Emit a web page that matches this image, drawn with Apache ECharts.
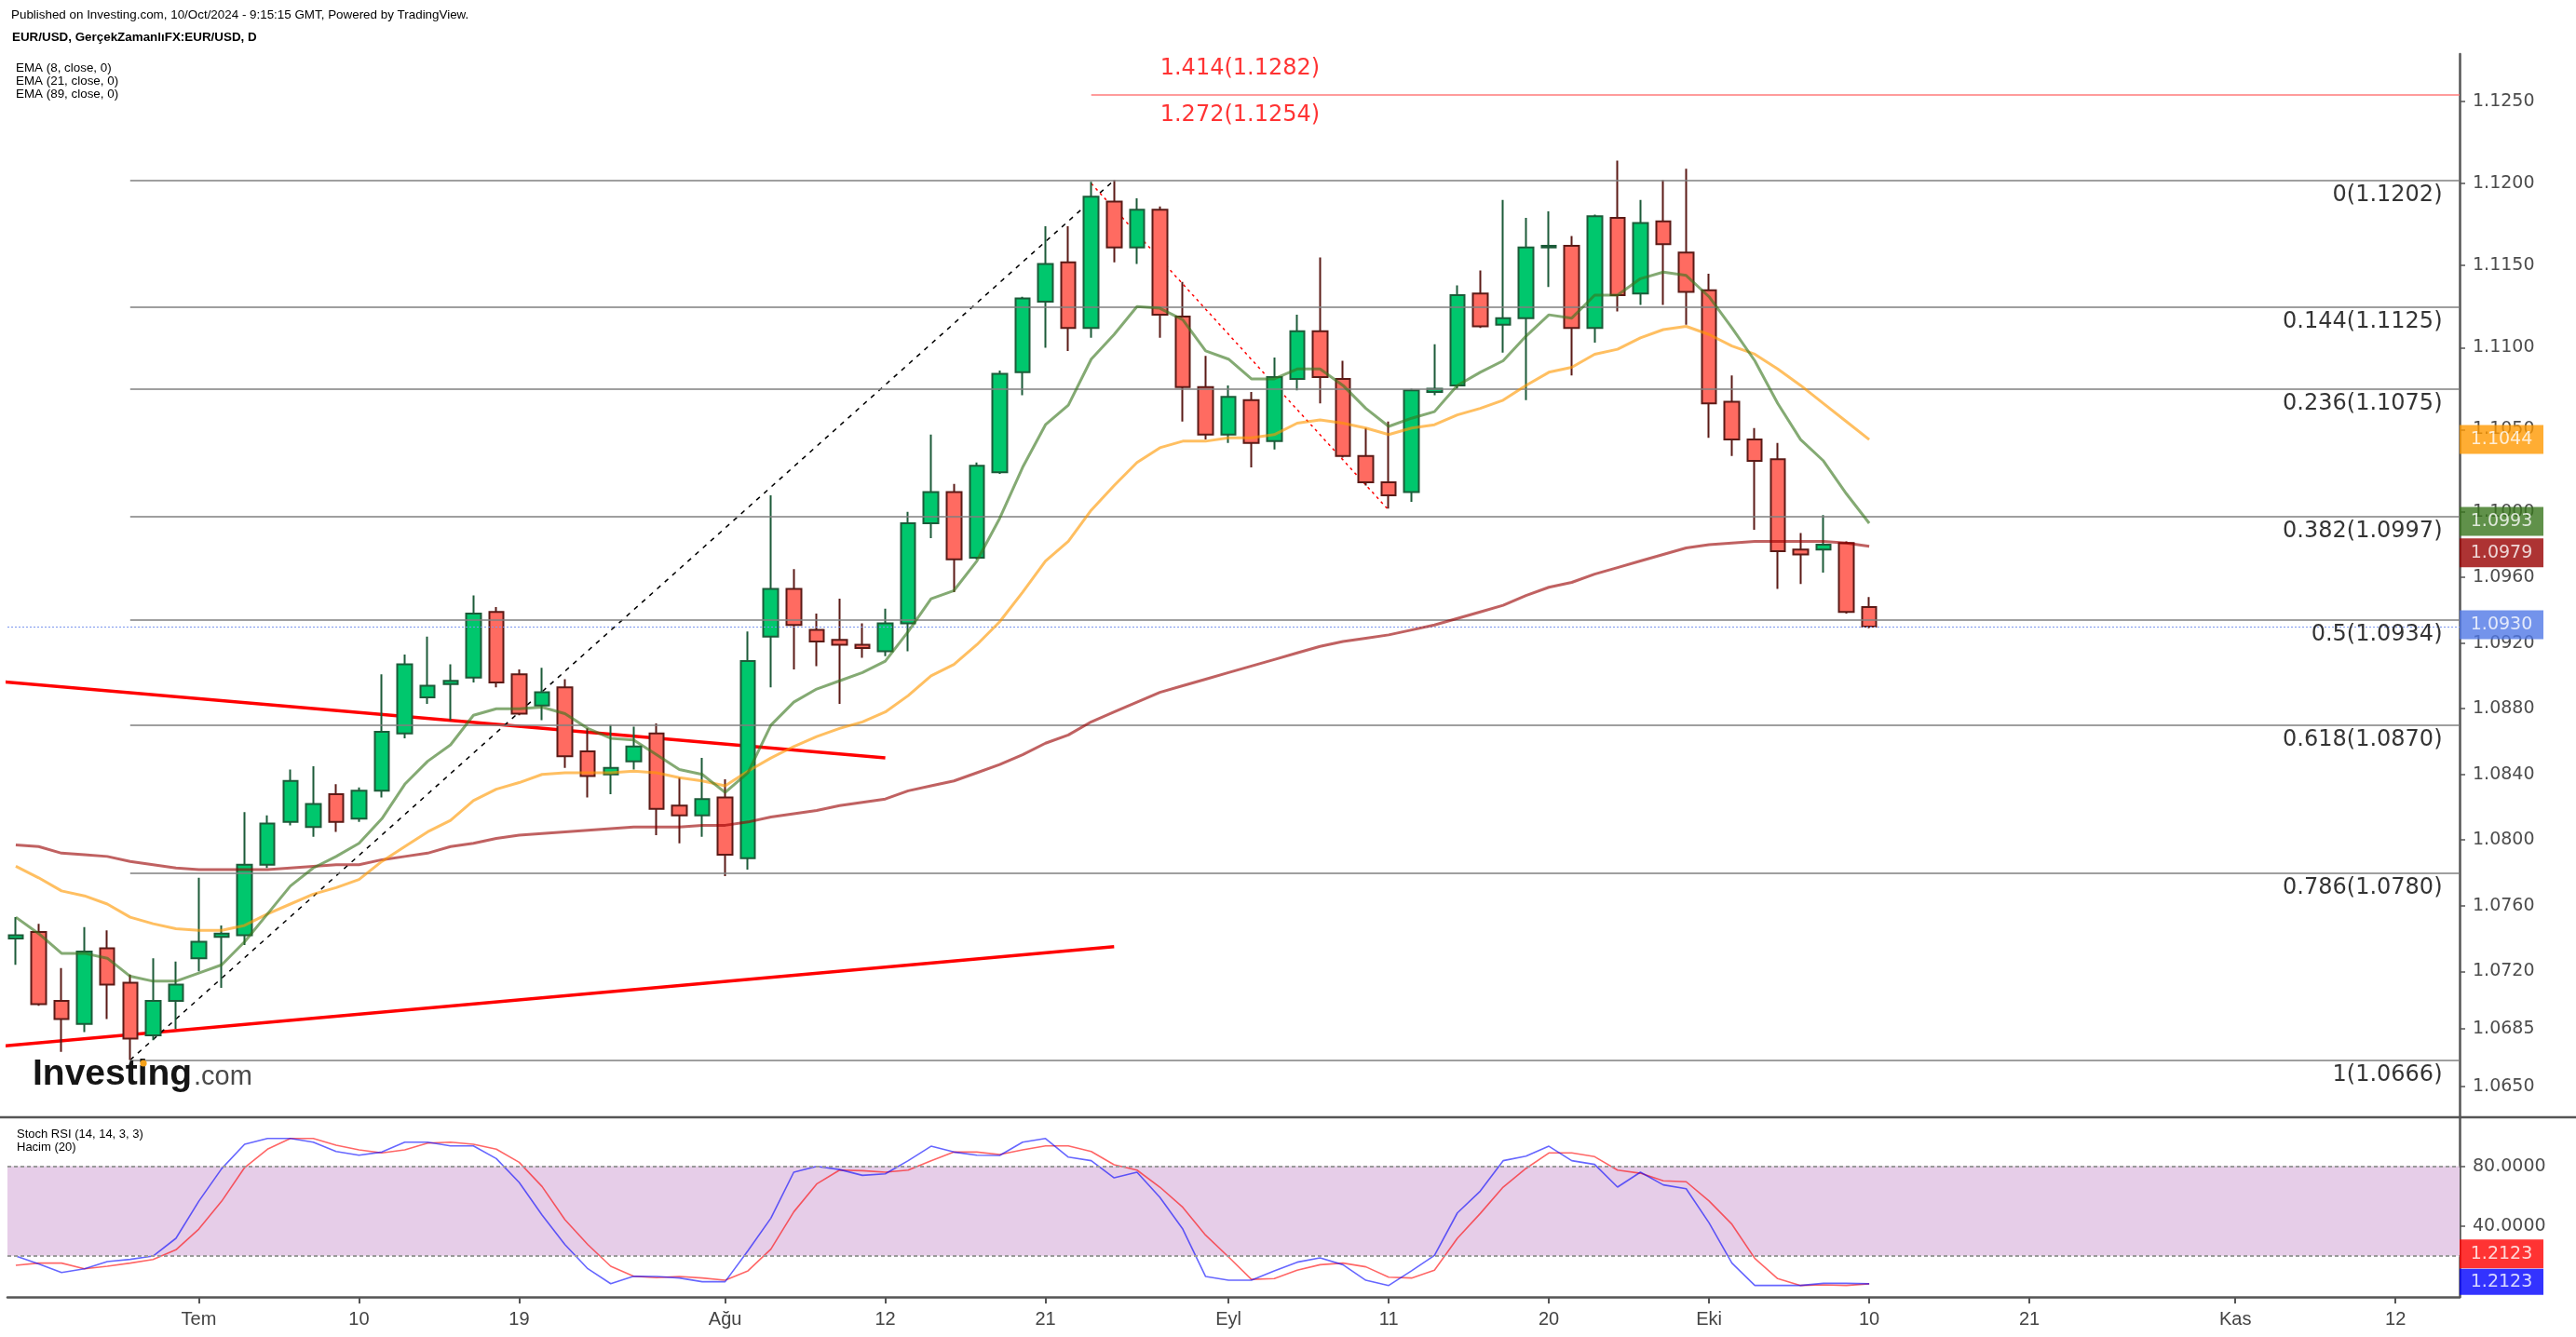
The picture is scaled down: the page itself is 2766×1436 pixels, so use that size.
<!DOCTYPE html>
<html><head><meta charset="utf-8">
<script src="https://cdn.jsdelivr.net/npm/echarts@6/dist/echarts.min.js"></script>
<style>html,body{margin:0;padding:0;background:#fff}#c{width:2766px;height:1436px}</style>
</head><body><div id="c"></div><script>
// ---------- categories (trading days) ----------
const dates = [];
for (let t = Date.UTC(2024, 5, 19); t <= Date.UTC(2024, 10, 14); t += 86400000) {
  const d = new Date(t), w = d.getUTCDay();
  if (w !== 0 && w !== 6) dates.push(d.toISOString().slice(0, 10));
}
const tickDates  = ['2024-07-01','2024-07-10','2024-07-19','2024-08-01','2024-08-12','2024-08-21','2024-09-02','2024-09-11','2024-09-20','2024-10-01','2024-10-10','2024-10-21','2024-11-01','2024-11-12'];
const tickLabels = ['Tem','10','19','Ağu','12','21','Eyl','11','20','Eki','10','21','Kas','12'];

// ---------- price data (2024-06-19 .. 2024-10-10) ----------
const open  = [1.0740,1.0744,1.0702,1.0688,1.0734,1.0713,1.0681,1.0702,1.0728,1.0741, 1.0742,1.0785,1.0811,1.0808,1.0828,1.0813,1.0830,1.0865,1.0887,1.0895, 1.0899,1.0939,1.0901,1.0882,1.0893,1.0854,1.0840,1.0848,1.0865,1.0821, 1.0815,1.0826,1.0789,1.0924,1.0953,1.0928,1.0922,1.0919,1.0915,1.0932, 1.0993,1.1012,1.0972,1.1024,1.1085,1.1128,1.1152,1.1112,1.1189,1.1161, 1.1184,1.1119,1.1076,1.1047,1.1068,1.1043,1.1081,1.1110,1.1081,1.1034, 1.1018,1.1012,1.1073,1.1077,1.1133,1.1114,1.1118,1.1161,1.1162,1.1112, 1.1179,1.1133,1.1177,1.1158,1.1135,1.1067,1.1044,1.1032,1.0977,1.0977, 1.0981,1.0942];
const close = [1.0742,1.0700,1.0691,1.0732,1.0712,1.0679,1.0702,1.0712,1.0738,1.0743, 1.0785,1.0810,1.0836,1.0822,1.0811,1.0830,1.0866,1.0907,1.0894,1.0897, 1.0938,1.0896,1.0877,1.0890,1.0851,1.0839,1.0844,1.0857,1.0819,1.0815, 1.0825,1.0791,1.0909,1.0953,1.0931,1.0921,1.0919,1.0917,1.0932,1.0993, 1.1012,1.0971,1.1028,1.1084,1.1130,1.1151,1.1112,1.1192,1.1161,1.1184, 1.1120,1.1076,1.1047,1.1070,1.1042,1.1082,1.1110,1.1082,1.1034,1.1018, 1.1010,1.1074,1.1075,1.1132,1.1113,1.1118,1.1161,1.1162,1.1112,1.1180, 1.1132,1.1176,1.1163,1.1134,1.1066,1.1044,1.1031,1.0976,1.0974,1.0980, 1.0939,1.0930];
const low   = [1.0724,1.0699,1.0671,1.0683,1.0691,1.0666,1.0678,1.0685,1.0720,1.0710, 1.0736,1.0783,1.0809,1.0802,1.0805,1.0811,1.0826,1.0862,1.0883,1.0873, 1.0896,1.0893,1.0876,1.0873,1.0844,1.0826,1.0828,1.0843,1.0803,1.0798, 1.0802,1.0778,1.0782,1.0893,1.0904,1.0906,1.0883,1.0911,1.0912,1.0915, 1.0984,1.0951,1.0971,1.1023,1.1071,1.1100,1.1098,1.1106,1.1152,1.1151, 1.1106,1.1055,1.1044,1.1042,1.1027,1.1038,1.1074,1.1066,1.1033,1.1016, 1.1002,1.1006,1.1071,1.1075,1.1112,1.1097,1.1068,1.1137,1.1083,1.1103, 1.1122,1.1126,1.1126,1.1114,1.1045,1.1034,1.0989,1.0953,1.0956,1.0963, 1.0938,1.0929];
const high  = [1.0753,1.0749,1.0722,1.0747,1.0745,1.0718,1.0728,1.0726,1.0777,1.0748, 1.0817,1.0815,1.0843,1.0845,1.0834,1.0832,1.0901,1.0913,1.0924,1.0907, 1.0949,1.0942,1.0904,1.0905,1.0898,1.0868,1.0870,1.0869,1.0871,1.0838, 1.0850,1.0837,1.0927,1.1010,1.0965,1.0938,1.0947,1.0932,1.0941,1.1000, 1.1047,1.1017,1.1030,1.1086,1.1131,1.1174,1.1174,1.1201,1.1202,1.1191, 1.1186,1.1140,1.1095,1.1077,1.1073,1.1094,1.1120,1.1155,1.1092,1.1051, 1.1055,1.1075,1.1102,1.1138,1.1147,1.1190,1.1179,1.1183,1.1168,1.1181, 1.1214,1.1190,1.1202,1.1209,1.1145,1.1083,1.1051,1.1042,1.0987,1.0998, 1.0982,1.0948];

const ema8  = [1.0753,1.0743,1.0731,1.0731,1.0728,1.0717,1.0714,1.0714,1.0719,1.0724, 1.0738,1.0755,1.0772,1.0783,1.0790,1.0798,1.0813,1.0834,1.0848,1.0858, 1.0876,1.0880,1.0880,1.0881,1.0877,1.0868,1.0862,1.0861,1.0852,1.0843, 1.0840,1.0829,1.0841,1.0870,1.0884,1.0892,1.0897,1.0902,1.0909,1.0927, 1.0947,1.0952,1.0970,1.0996,1.1027,1.1053,1.1065,1.1093,1.1108,1.1125, 1.1124,1.1117,1.1098,1.1093,1.1081,1.1081,1.1087,1.1087,1.1077,1.1063, 1.1052,1.1057,1.1061,1.1077,1.1085,1.1092,1.1107,1.1120,1.1118,1.1132, 1.1132,1.1142,1.1146,1.1144,1.1131,1.1112,1.1092,1.1066,1.1044,1.1031, 1.1011,1.0993];
const ema21 = [1.0784,1.0777,1.0769,1.0766,1.0761,1.0753,1.0749,1.0746,1.0745,1.0745, 1.0748,1.0755,1.0761,1.0767,1.0771,1.0776,1.0787,1.0796,1.0805,1.0812, 1.0824,1.0831,1.0835,1.0840,1.0841,1.0841,1.0841,1.0842,1.0841,1.0838, 1.0836,1.0833,1.0842,1.0850,1.0857,1.0863,1.0868,1.0872,1.0878,1.0888, 1.0900,1.0907,1.0919,1.0933,1.0951,1.0970,1.0982,1.1001,1.1016,1.1030, 1.1039,1.1043,1.1043,1.1045,1.1045,1.1047,1.1054,1.1056,1.1054,1.1051, 1.1047,1.1051,1.1053,1.1059,1.1063,1.1068,1.1077,1.1085,1.1088,1.1096, 1.1099,1.1106,1.1111,1.1113,1.1108,1.1101,1.1096,1.1087,1.1077,1.1066, 1.1055,1.1044];
const ema89 = [1.0797,1.0796,1.0792,1.0791,1.0790,1.0787,1.0785,1.0783,1.0782,1.0782, 1.0782,1.0782,1.0783,1.0784,1.0785,1.0785,1.0788,1.0790,1.0792,1.0796, 1.0798,1.0801,1.0803,1.0804,1.0805,1.0806,1.0807,1.0808,1.0808,1.0808, 1.0809,1.0809,1.0811,1.0814,1.0816,1.0818,1.0821,1.0823,1.0825,1.0830, 1.0833,1.0836,1.0841,1.0846,1.0852,1.0859,1.0864,1.0872,1.0878,1.0884, 1.0890,1.0894,1.0898,1.0902,1.0906,1.0910,1.0914,1.0918,1.0921,1.0923, 1.0925,1.0928,1.0931,1.0935,1.0939,1.0943,1.0949,1.0954,1.0957,1.0962, 1.0966,1.0970,1.0974,1.0978,1.0980,1.0981,1.0982,1.0982,1.0982,1.0982, 1.0981,1.0979];

const stochK = [19.8,14.6,8.8,11.3,16.1,17.6,19.8,31.7, 56.6,78.4,94.7,98.6,98.6,96.1,89.9,87.4,89.5,96.1, 96.1,93.6,93.6,85.1,69.1,47.3,27.5,11.3,1.3,6.3, 6.1,5.1,2.6,2.6,23.4,45.2,76.0,79.9,77.8,73.9, 74.9,83.7,93.4,89.5,87.4,87.2,96.1,98.6,86.1,83.7, 72.2,76.0,59.1,37.9,6.1,3.6,3.6,9.9,15.7, 18.6,14.0,3.6,0.1,9.9,20.2,48.7,63.3,83.7,86.8,93.4,83.7,81.2,66.0,76.0,67.5,64.9,42.1,15.1,0.1,0.1,0.1,1.5,1.5,1.2123];
const stochD = [13.6,15.1,15.1,11.3,13.0,15.1,17.5,24.0, 37.9,56.6,79.1,91.4,98.6,98.6,94.1,91.0,88.9,91.0, 95.5,96.1,94.7,91.4,82.6,66.4,44.2,27.5,13.0,6.3, 5.3,6.1,5.1,3.6,9.9,24.4,49.4,68.1,77.4,77.0, 76.0,77.4,83.7,89.5,89.5,87.8,91.0,93.6,93.6,89.9, 81.0,77.4,66.0,52.5,33.8,19.2,4.2,4.7,10.3, 14.0,15.1,12.6,5.7,5.1,10.3,31.7,48.3,66.0,78.5,88.9,88.9,86.4,77.4,75.3,70.2,69.6,56.7,41.1,18.2,4.7,0.1,0.5,0.1,1.2123];

const priceTicks = [1.1250,1.1200,1.1150,1.1100,1.1050,1.1000,1.0960,1.0920,1.0880,1.0840,1.0800,1.0760,1.0720,1.0685,1.0650];
const rsiTicks = [80, 40];
const rsiBand = [20, 80];

const fibLevels = ['0','0.144','0.236','0.382','0.5','0.618','0.786','1'];
const fibValues = [1.1202,1.1125,1.1075,1.0997,1.0934,1.0870,1.0780,1.0666];
const fibStartDate = '2024-06-26';
const extLevels = ['1.414','1.272'];
const extValues = [1.1282,1.1254];
const extStartDate = '2024-08-23';
const extLabelX = 53.5; // between the two anchor days

// drawn trend lines: [dayIndex, price] (-1 = 2024-06-18)
const trendUpper = [[-1, 1.0897], [38, 1.0850]];
const trendLower = [[-1, 1.0674], [48, 1.0735]];
const fibDiagonal = [['2024-06-26', 1.0666], ['2024-08-26', 1.1202]];
const extDiagonal = [['2024-08-23', 1.1200], ['2024-09-11', 1.1001]];

// ---------- layout ----------
const X_MIN = -0.364, X_MAX = 106.80;
const di = s => dates.indexOf(s);
const tickIdx = tickDates.map(di);
const n = close.length;
const candles = close.map((c, i) => [i, open[i], c, low[i], high[i]]);
const pts = arr => arr.map((v, i) => [i, v]);

const chart = echarts.init(document.getElementById('c'));
const axisGrey = '#555';
const hidden = {show: false};

const option = {
  animation: false,
  textStyle: {fontFamily: 'DejaVu Sans'},
  grid: [
    {left: 8, right: 125, top: 58, height: 1142},
    {left: 8, right: 125, top: 1200, height: 193}
  ],
  xAxis: [
    {type: 'value', gridIndex: 0, min: X_MIN, max: X_MAX, axisLine: hidden, axisTick: hidden, axisLabel: hidden, splitLine: hidden},
    {type: 'value', gridIndex: 1, min: X_MIN, max: X_MAX,
      axisLine: {onZero: false, lineStyle: {color: axisGrey, width: 2.5}},
      axisTick: {customValues: tickIdx, length: 7, lineStyle: {color: axisGrey, width: 2}},
      axisLabel: {customValues: tickIdx, margin: 14, color: '#444', fontSize: 20, fontFamily: 'Liberation Sans',
        formatter: v => { const k = tickIdx.indexOf(Math.round(v)); return k >= 0 ? tickLabels[k] : ''; }},
      splitLine: hidden}
  ],
  yAxis: [
    {type: 'value', gridIndex: 0, position: 'right', min: 1.06311, max: 1.12789,
      axisLine: {show: true, onZero: false, lineStyle: {color: axisGrey, width: 2.5}},
      axisTick: {show: true, customValues: priceTicks, length: 6, lineStyle: {color: axisGrey, width: 1.5}},
      axisLabel: {customValues: priceTicks, margin: 14, color: '#4d4d4d', fontSize: 19, formatter: v => v.toFixed(4)},
      splitLine: hidden},
    {type: 'value', gridIndex: 1, position: 'right', min: -7.6, max: 112.8,
      axisLine: {show: true, onZero: false, lineStyle: {color: axisGrey, width: 2.5}},
      axisTick: {show: true, customValues: rsiTicks, length: 6, lineStyle: {color: axisGrey, width: 1.5}},
      axisLabel: {customValues: rsiTicks, margin: 14, color: '#4d4d4d', fontSize: 19, formatter: v => v.toFixed(4)},
      splitLine: hidden}
  ],
  series: [
    // Fibonacci retracement levels
    {type: 'line', xAxisIndex: 0, yAxisIndex: 0, data: [], z: 1,
      markLine: {silent: true, symbol: ['none','none'], label: hidden, animation: false,
        lineStyle: {color: '#7f7f7f', width: 1.5, type: 'solid'},
        data: fibValues.map(v => [{coord: [di(fibStartDate), v]}, {coord: [X_MAX, v]}])}},
    // extension levels
    {type: 'line', xAxisIndex: 0, yAxisIndex: 0, data: [], z: 1,
      markLine: {silent: true, symbol: ['none','none'], label: hidden, animation: false,
        lineStyle: {color: '#ff7b7b', width: 1.5, type: 'solid'},
        data: extValues.map(v => [{coord: [di(extStartDate), v]}, {coord: [X_MAX, v]}])}},
    // last price line
    {type: 'line', xAxisIndex: 0, yAxisIndex: 0, data: [], z: 1,
      markLine: {silent: true, symbol: ['none','none'], label: hidden, animation: false,
        lineStyle: {color: '#7b96ee', width: 1, type: [2, 2]},
        data: [[{coord: [X_MIN, close[n-1]]}, {coord: [X_MAX, close[n-1]]}]]}},
    // trend lines
    {type: 'line', xAxisIndex: 0, yAxisIndex: 0, data: trendUpper, symbol: 'none', z: 3,
      lineStyle: {color: '#ff0000', width: 3.5}},
    {type: 'line', xAxisIndex: 0, yAxisIndex: 0, data: trendLower, symbol: 'none', z: 3,
      lineStyle: {color: '#ff0000', width: 3.5}},
    {type: 'line', xAxisIndex: 0, yAxisIndex: 0, data: fibDiagonal.map(p => [di(p[0]), p[1]]), symbol: 'none', z: 3,
      lineStyle: {color: '#000', width: 1.5, type: [5, 6]}},
    {type: 'line', xAxisIndex: 0, yAxisIndex: 0, data: extDiagonal.map(p => [di(p[0]), p[1]]), symbol: 'none', z: 3,
      lineStyle: {color: '#ff0000', width: 1.5, type: [3, 4]}},
    // candles
    {type: 'candlestick', xAxisIndex: 0, yAxisIndex: 0, data: candles, encode: {x: 0, y: [1, 2, 3, 4]},
      barWidth: 16, z: 4,
      itemStyle: {color: '#00c76d', color0: '#ff6b61', borderColor: '#1c5b39', borderColor0: '#5b1a16', borderWidth: 2}},
    // EMAs
    {type: 'line', xAxisIndex: 0, yAxisIndex: 0, data: pts(ema89), symbol: 'none', z: 5,
      lineStyle: {color: '#990000', width: 3, opacity: 0.62}},
    {type: 'line', xAxisIndex: 0, yAxisIndex: 0, data: pts(ema21), symbol: 'none', z: 5,
      lineStyle: {color: '#ff9800', width: 3, opacity: 0.62}},
    {type: 'line', xAxisIndex: 0, yAxisIndex: 0, data: pts(ema8), symbol: 'none', z: 5,
      lineStyle: {color: '#38761d', width: 3, opacity: 0.62}},
    // fib labels
    {type: 'scatter', xAxisIndex: 0, yAxisIndex: 0, clip: false, silent: true, symbolSize: 1, z: 6,
      itemStyle: {color: 'transparent'},
      data: fibValues.map(v => [X_MAX, v]),
      label: {show: true, position: 'left', distance: 18, offset: [0, 16], color: '#000', fontSize: 24, fontFamily: 'DejaVu Sans',
        formatter: p => fibLevels[p.dataIndex] + '(' + fibValues[p.dataIndex].toFixed(4) + ')'}},
    {type: 'scatter', xAxisIndex: 0, yAxisIndex: 0, clip: false, silent: true, symbolSize: 1, z: 6,
      itemStyle: {color: 'transparent'},
      data: extValues.map(v => [extLabelX, v]),
      label: {show: true, position: 'bottom', distance: 9, color: '#ff0000', fontSize: 24, fontFamily: 'DejaVu Sans',
        formatter: p => extLevels[p.dataIndex] + '(' + extValues[p.dataIndex].toFixed(4) + ')'}},
    // price tags on the axis
    {type: 'scatter', xAxisIndex: 0, yAxisIndex: 0, clip: false, silent: true, symbol: 'rect', symbolSize: [90, 31], z: 10,
      data: [
        {value: [X_MAX, ema21[n-1]], itemStyle: {color: '#ff9800'}, symbolOffset: [45, 0]},
        {value: [X_MAX, ema8[n-1]], itemStyle: {color: '#38761d'}, symbolOffset: [45, -2]},
        {value: [X_MAX, ema89[n-1]], itemStyle: {color: '#990000'}, symbolOffset: [45, 7]},
        {value: [X_MAX, close[n-1]], itemStyle: {color: '#5078e6'}, symbolOffset: [45, -2]}
      ],
      label: {show: true, position: 'inside', color: '#fff', fontSize: 19, fontFamily: 'DejaVu Sans', formatter: p => p.value[1].toFixed(4)}},
    // Stoch RSI band
    {type: 'line', xAxisIndex: 1, yAxisIndex: 1, data: [], z: 1,
      markArea: {silent: true, itemStyle: {color: '#e6cde8'}, data: [[{yAxis: rsiBand[0]}, {yAxis: rsiBand[1]}]]},
      markLine: {silent: true, symbol: ['none','none'], label: hidden, animation: false,
        lineStyle: {color: '#9a9a9a', width: 2, type: [4, 3]},
        data: rsiBand.map(v => [{coord: [X_MIN, v]}, {coord: [X_MAX, v]}])}},
    {type: 'line', xAxisIndex: 1, yAxisIndex: 1, data: pts(stochD), symbol: 'none', z: 3,
      lineStyle: {color: '#ff0000', width: 1.6, opacity: 0.6}},
    {type: 'line', xAxisIndex: 1, yAxisIndex: 1, data: pts(stochK), symbol: 'none', z: 3,
      lineStyle: {color: '#0000ff', width: 1.6, opacity: 0.6}},
    {type: 'scatter', xAxisIndex: 1, yAxisIndex: 1, clip: false, silent: true, symbol: 'rect', z: 10,
      data: [
        {value: [X_MAX, stochD[n-1]], itemStyle: {color: '#ff0000'}, symbolSize: [90, 31], symbolOffset: [45, -32]},
        {value: [X_MAX, stochK[n-1]], itemStyle: {color: '#0000ff'}, symbolSize: [90, 28], symbolOffset: [45, -2]}
      ],
      label: {show: true, position: 'inside', color: '#fff', fontSize: 19, fontFamily: 'DejaVu Sans', formatter: p => p.value[1].toFixed(4)}}
  ],
  graphic: [
    {type: 'line', z: 50, shape: {x1: 0, y1: 1200, x2: 2766, y2: 1200}, style: {stroke: axisGrey, lineWidth: 2.5}},
    {type: 'text', x: 12, y: 16, style: {text: 'Published on Investing.com, 10/Oct/2024 - 9:15:15 GMT, Powered by TradingView.', font: '13.4px "Liberation Sans"', fill: '#000', verticalAlign: 'middle'}},
    {type: 'text', x: 13, y: 40, style: {text: 'EUR/USD, GerçekZamanlıFX:EUR/USD, D', font: 'bold 13.4px "Liberation Sans"', fill: '#000', verticalAlign: 'middle'}},
    {type: 'text', x: 17, y: 73, style: {text: 'EMA (8, close, 0)', font: '13.4px "Liberation Sans"', fill: '#000', verticalAlign: 'middle'}},
    {type: 'text', x: 17, y: 87, style: {text: 'EMA (21, close, 0)', font: '13.4px "Liberation Sans"', fill: '#000', verticalAlign: 'middle'}},
    {type: 'text', x: 17, y: 101, style: {text: 'EMA (89, close, 0)', font: '13.4px "Liberation Sans"', fill: '#000', verticalAlign: 'middle'}},
    {type: 'text', x: 18, y: 1218, style: {text: 'Stoch RSI (14, 14, 3, 3)', font: '13px "Liberation Sans"', fill: '#000', verticalAlign: 'middle'}},
    {type: 'text', x: 18, y: 1232, style: {text: 'Hacim (20)', font: '13px "Liberation Sans"', fill: '#000', verticalAlign: 'middle'}},
    {type: 'text', x: 35, y: 1154, z: 20, style: {text: 'Investing', font: 'bold 39px "Liberation Sans"', fill: '#151515', verticalAlign: 'middle'}},
    {type: 'text', x: 208, y: 1157, z: 20, style: {text: '.com', font: '29px "Liberation Sans"', fill: '#4a4a4a', verticalAlign: 'middle'}},
    {type: 'circle', z: 21, shape: {cx: 154, cy: 1142, r: 3.6}, style: {fill: '#f5a21c'}}
  ]
};
chart.setOption(option);
</script></body></html>
